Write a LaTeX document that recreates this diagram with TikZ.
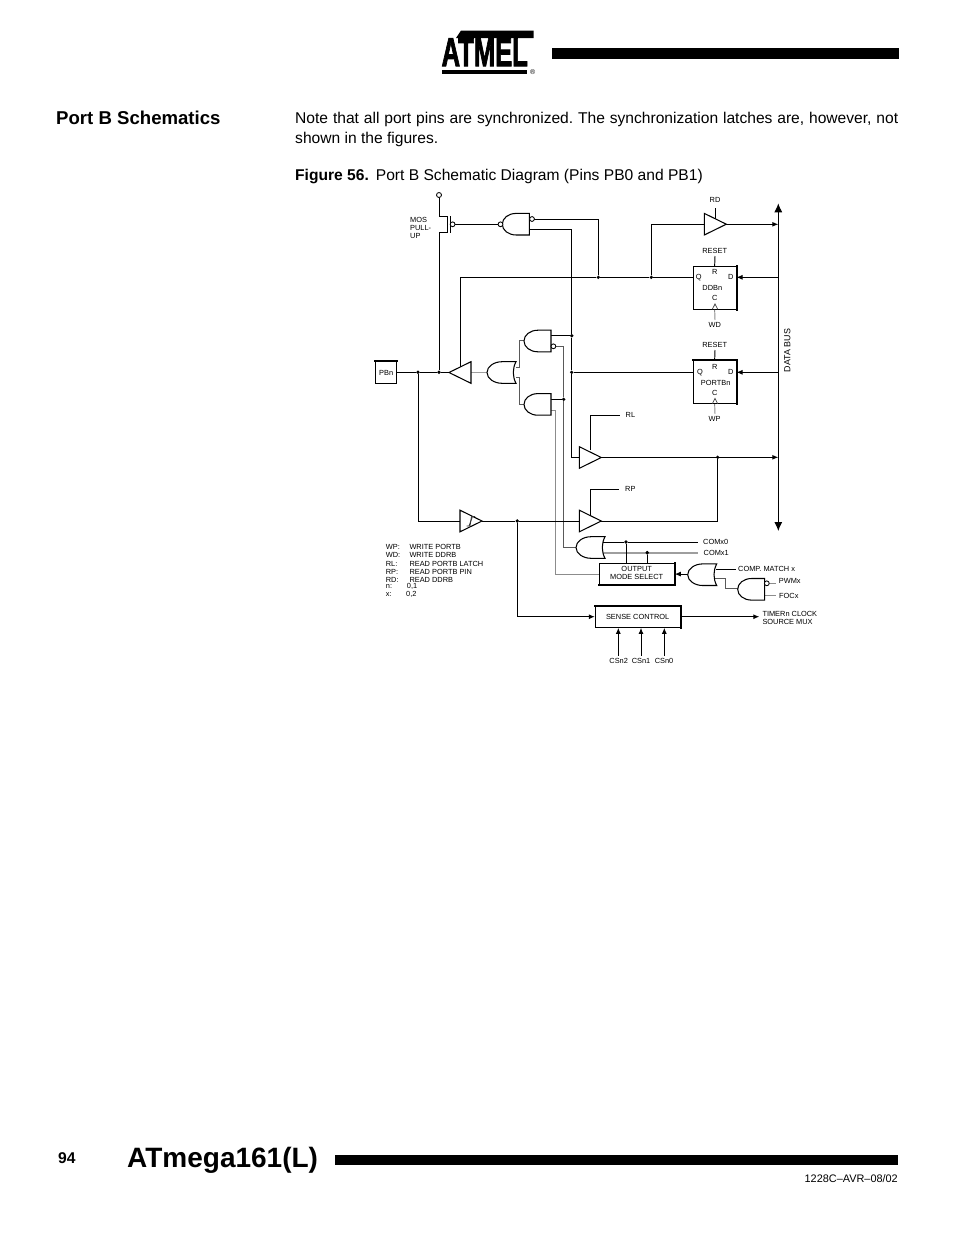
\documentclass[tikz,border=0pt]{standalone}
\usepackage{fontspec}
\setmainfont{Liberation Sans}
\newfontfamily\logofont[FakeBold=2.5]{Liberation Sans Bold}
\usetikzlibrary{arrows.meta,calc}
\newcommand{\smalltxt}{\fontsize{7.4}{8}\selectfont}
\newcommand{\bodytxt}{\fontsize{15.6}{19.5}\selectfont\frenchspacing}
\tikzset{
 wire/.style={line width=0.95pt,black},
 gwire/.style={line width=0.95pt,black!45},
 dwire/.style={line width=0.95pt,black!65},
 lwire/.style={line width=1.8pt,black!38},
 arr/.style={-{Latex[length=6pt,width=5pt]}},
 busarr/.style={{Latex[length=9pt,width=8pt]}-{Latex[length=9pt,width=8pt]}},
 gate/.style={line width=1.05pt,draw=black,fill=white,line join=miter},
 lbl/.style={inner sep=0pt,font=\smalltxt,text height=5.3pt,text depth=0pt},
 lblw/.style={lbl,anchor=west},
 dot/.style={circle,fill=black,inner sep=0pt,minimum size=3.7pt},
 bubble/.style={circle,draw=black,fill=white,line width=0.85pt,inner sep=0pt,minimum size=4.8pt},
 thebox/.style={draw=black,fill=white,line width=1pt,inner sep=0pt},
 thick edge/.style={line width=2pt,black,line cap=rect},
 andL/.pic={\path[gate] (0,-10.8) -- (-13,-10.8) .. controls (-21,-10.8) and (-27,-6) .. (-27,0) .. controls (-27,6) and (-21,10.8) .. (-13,10.8) -- (0,10.8) -- cycle;},
 orL/.pic={\path[gate] (0,-10.8) -- (-14,-10.8) .. controls (-22,-10.8) and (-29,-6) .. (-29,0) .. controls (-29,6) and (-22,10.8) .. (-14,10.8) -- (0,10.8) .. controls (-3.6,4) and (-3.6,-4) .. (0,-10.8) -- cycle;},
 bufR/.pic={\path[gate] (0,-10.8) -- (22,0) -- (0,10.8) -- cycle;},
 bufL/.pic={\path[gate] (0,-10.8) -- (-22,0) -- (0,10.8) -- cycle;},
}
\begin{document}
\begin{tikzpicture}[x=1pt,y=-1pt]
\useasboundingbox (0,0) rectangle (954,1235);
\fill[white] (0,0) rectangle (954,1235);

% page furniture
\fill[black] (552,47.5) rectangle (899,59);
\fill[black] (335,1155) rectangle (898,1164.5);
\fill[black] (461,30.5) -- (533.5,30.5) -- (533.5,38) -- (456,38) -- cycle;
\fill[black] (441.5,69.5) rectangle (527,74.3);
\node[inner sep=0pt,anchor=base west,font=\logofont\fontsize{40}{40}\selectfont,xscale=.64] (logo) at (441.5,66) {ATMEL};
\node[inner sep=0pt,font=\fontsize{7}{7}\selectfont] (reg) at (532.7,71.7) {®};
\node[inner sep=0pt,anchor=base west,font=\bfseries\fontsize{18.6}{20}\selectfont] (head) at (56,124) {Port B Schematics};
\node[inner sep=0pt,anchor=north west,text width=603pt,align=justify,font=\bodytxt] (para) at (295,112) {Note that all port pins are synchronized. The synchronization latches are, however, not shown in the figures.};
\node[inner sep=0pt,anchor=base west,font=\bodytxt] (cap) at (295,180) {\textbf{Figure 56.}\hspace{7pt}Port B Schematic Diagram (Pins PB0 and PB1)};
\node[inner sep=0pt,anchor=base west,font=\bfseries\fontsize{15.6}{18}\selectfont] (pg) at (58,1163.5) {94};
\node[inner sep=0pt,anchor=base west,font=\bfseries\fontsize{28}{30}\selectfont] (title) at (127,1167) {ATmega161(L)};
\node[inner sep=0pt,anchor=base east,font=\fontsize{10.9}{12}\selectfont] (doc) at (898,1182) {1228C–AVR–08/02};

% junctions
\node[dot] (jPA) at (418,372.3) {};
\node[dot] (jPB) at (439,372.3) {};
\node[dot] (jQ1) at (598.3,277.3) {};
\node[dot] (jQ2) at (651.3,277.3) {};
\node[dot] (jP) at (571.7,372.3) {};
\node[dot] (jA1) at (571.7,335.7) {};
\node[dot] (jA2) at (563.7,399.3) {};
\node[dot] (jS) at (517.3,521) {};
\node[dot] (jL) at (717.7,457.3) {};
\node[dot] (jC0) at (626,542) {};
\node[dot] (jC1) at (647.3,552.7) {};

% boxes
\node[thebox,minimum width=21pt,minimum height=21.6pt] (pbn) at (386.2,372.5) {};
\node[thebox,minimum width=42.7pt,minimum height=43pt] (ddb) at (714.65,287.8) {};
\node[thebox,minimum width=42.7pt,minimum height=43pt] (prt) at (714.65,382.2) {};
\node[thebox,minimum width=75pt,minimum height=21.7pt] (oms) at (636.8,574.1) {};
\node[thebox,minimum width=85pt,minimum height=21.3pt] (sns) at (637.8,616.7) {};
\draw[thick edge] (pbn.north west) -- (pbn.north east);
\draw[thick edge] (ddb.north east) -- (ddb.south east);
\draw[thick edge] (prt.north west) -- (prt.north east) -- (prt.south east);
\draw[thick edge] (oms.north east) -- (oms.south east) -- (oms.south west);
\draw[thick edge] (sns.north west) -- (sns.north east) -- (sns.south east);

% free end points
\coordinate (bT) at (778.3,203.3);
\coordinate (bB) at (778.3,531);
\coordinate (bRD) at (778.3,224.3);
\coordinate (bD1) at (778.3,277.3);
\coordinate (bD2) at (778.3,372.3);
\coordinate (bRL) at (778.3,457.3);
\coordinate (vddE) at (439,212);
\coordinate (msE) at (439,237);
\coordinate (nandIn) at (500,224.3);
\coordinate (mg) at (452.3,224.3);
\coordinate (nT) at (529.3,219);
\coordinate (nB) at (529.3,229.3);
\coordinate (bufLtop) at (460.3,366.7);
\coordinate (bufLc) at (471,372.3);
\coordinate (bufLtip) at (449.3,372.3);
\coordinate (orIn1) at (516,367.3);
\coordinate (orIn2) at (516,377.7);
\coordinate (orV1) at (519,367.3);
\coordinate (orV2) at (519,377.7);
\coordinate (orOut) at (486.7,372.3);
\coordinate (a1In) at (524,340.7);
\coordinate (a2In) at (524,404);
\coordinate (a1O) at (551,335.7);
\coordinate (a1Bub) at (556,346.3);
\coordinate (a2O) at (551,399.3);
\coordinate (a2G) at (551,410);
\coordinate (b3In) at (579.3,457.3);
\coordinate (b3Tip) at (601.3,457.3);
\coordinate (b3En) at (590.3,450);
\coordinate (b4In) at (579.3,521);
\coordinate (b4Tip) at (601.3,521);
\coordinate (b4En) at (590.3,515);
\coordinate (rlE) at (620,415);
\coordinate (rpE) at (619.3,489.3);
\coordinate (stIn) at (460,521);
\coordinate (stOut) at (481.7,521);
\coordinate (or2In) at (576.7,547.3);
\coordinate (c0S) at (603.3,542);
\coordinate (c0E) at (698.3,542);
\coordinate (c1S) at (603.3,552.7);
\coordinate (c1E) at (698.3,552.7);
\coordinate (or3O) at (688,574.1);
\coordinate (or3A) at (716,569);
\coordinate (or3AE) at (735.7,569);
\coordinate (or3B) at (715.3,578.3);
\coordinate (a3V) at (725.3,588.7);
\coordinate (a3In) at (737.7,588.7);
\coordinate (a3Bub) at (769,583.3);
\coordinate (a3BubE) at (775.7,583.3);
\coordinate (a3F) at (764.7,595.7);
\coordinate (a3FE) at (775.7,595.7);
\coordinate (snsOut) at (759.3,616.7);
\coordinate (rdB) at (704.3,224.3);
\coordinate (rdTip) at (726,224.3);
\coordinate (rdTop) at (715,208);
\coordinate (rdEn) at (715,219);
\coordinate (rst1) at (715,256);
\coordinate (rst2) at (715,350);
\coordinate (wd) at (715,320);
\coordinate (wp) at (715,414);
\coordinate (omsV) at (555.7,574.1);
\coordinate (cs2) at (618.3,655.7);
\coordinate (cs1) at (641,655.7);
\coordinate (cs0) at (664.3,655.7);

% wires
\draw[wire,busarr] (bT) -- (bB);
\draw[wire] (pbn.east |- jPA) -- (jPA) -- (jPB) -- (bufLtip);
\draw[wire] (jPB) -- (msE);
\draw[wire] (mg) -- (nandIn);
\draw[wire] (nT) -| (jQ1);
\draw[wire] (nB) -| (jA1);
\draw[wire] (jA1) -- (jP);
\draw[wire] (jP) |- (b3In);
\draw[wire] (bufLtop) |- (jQ1);
\draw[wire] (jQ1) -- (jQ2) -- (ddb.west |- jQ1);
\draw[wire] (jQ2) |- (rdB);
\draw[wire] (jP) -- (prt.west |- jP);
\draw[wire,arr] (bD1) -- (ddb.east |- bD1);
\draw[wire,arr] (bD2) -- (prt.east |- bD2);
\draw[wire,arr] (rdTip) -- (bRD);
\draw[wire] (rdTop) -- (rdEn);
\draw[wire] (rst1) -- (ddb.north);
\draw[wire] (rst2) -- (prt.north);
\draw[gwire] (wd) -- (ddb.south);
\draw[gwire] (wp) -- (prt.south);
\draw[lwire,line width=1.2pt] (bufLc) -- (orOut);
\draw[dwire] (orIn1) -- (orV1) |- (a1In);
\draw[dwire] (orIn2) -- (orV2) |- (a2In);
\draw[wire] (a1O) -- (jA1);
\draw[wire] (a2O) -- (jA2);
\draw[dwire] (a1Bub) -| (jA2);
\draw[dwire] (jA2) |- (or2In);
\draw[gwire] (a2G) -| (omsV) -- (oms.west);
\draw[wire,arr] (b3Tip) -- (bRL);
\draw[wire] (jL) |- (b4Tip);
\draw[wire] (b3En) |- (rlE);
\draw[wire] (b4En) |- (rpE);
\draw[wire] (jPA) |- (stIn);
\draw[wire] (stOut) -- (jS) -- (b4In);
\draw[wire,arr] (jS) |- (sns.west);
\draw[wire] (c0S) -- (jC0) -- (c0E);
\draw[lwire] (c1S) -- (c1E);
\draw[wire] (jC0) -- (jC0 |- oms.north);
\draw[wire] (jC1) -- (jC1 |- oms.north);
\fill[black] (jC1) circle (1.85pt);
\draw[wire,arr] (or3O) -- (oms.east);
\draw[wire] (or3A) -- (or3AE);
\draw[dwire] (or3B) -| (a3V) -- (a3In);
\draw[gwire] (a3Bub) -- (a3BubE);
\draw[gwire] (a3F) -- (a3FE);
\draw[wire,arr] (sns.east) -- (snsOut);
\draw[wire,arr] (cs2) -- (cs2 |- sns.south);
\draw[wire,arr] (cs1) -- (cs1 |- sns.south);
\draw[wire,arr] (cs0) -- (cs0 |- sns.south);

% MOS transistor
\node[bubble,minimum size=5pt] (vdd) at (439,195) {};
\draw[wire] (vdd) -- (vddE);
\draw[line width=.95pt] (vddE) -- (439,216) -- (447.6,216) -- (447.6,232.7) -- (439,232.7) -- (msE);
\draw[line width=.95pt] (450,216) -- (450,232.7);

% gates
\pic at (529.3,224.2) {andL};
\node[bubble] (nb1) at (500.5,224.3) {};
\node[bubble] (nb2) at (532,219) {};
\node[bubble] (mb) at (452.6,224.3) {};
\pic at (551,341) {andL};
\node[bubble] (ab1) at (553.4,346.3) {};
\pic at (551,404.4) {andL};
\pic at (471,372.5) {bufL};
\pic at (516,372.5) {orL};
\pic at (704.3,224.2) {bufR};
\pic at (579.3,457.5) {bufR};
\pic at (579.3,521) {bufR};
\pic at (460,521) {bufR};
\draw[line width=.8pt,black!80] (466.5,526) -- (470,526) -- (471.5,516.5) -- (475,516.5);
\draw[line width=.8pt,black!80] (469,526) -- (472.5,516.5);
\pic at (605,547.5) {orL};
\pic at (716.7,574.7) {orL};
\pic at (764.7,589.3) {andL};
\node[bubble] (ab3) at (766.8,583.3) {};

% clock marks
\draw[line width=.7pt,black!75] (712.3,309.3) -- (715,304) -- (717.7,309.3);
\draw[line width=.7pt,black!75] (712.3,403.7) -- (715,398.3) -- (717.7,403.7);

% labels
\node[lbl] (tPB) at (pbn) {PBn};
\node[inner sep=0pt,anchor=west,align=left,font=\fontsize{7.4}{8}\selectfont] (tMOS) at (410,227.5) {MOS\\PULL-\\UP};
\node[lbl] (tRD) at (715,200.3) {RD};
\node[lbl] (tR1) at (714.7,250.7) {RESET};
\node[lbl] (tR) at (714.7,272) {R};
\node[lbl] (tQ) at (698.7,277.3) {Q};
\node[lbl] (tD) at (730.7,277.3) {D};
\node[lbl] (tDDB) at (712.3,287.7) {DDBn};
\node[lbl] (tC) at (714.7,298.3) {C};
\node[lbl] (tWD) at (714.7,325) {WD};
\node[lbl] (tR2) at (714.7,345) {RESET};
\node[lbl] (tRb) at (714.7,367) {R};
\node[lbl] (tQb) at (700,371.7) {Q};
\node[lbl] (tDb) at (730.7,372.3) {D};
\node[lbl] (tPRT) at (715.7,383.3) {PORTBn};
\node[lbl] (tCb) at (714.7,392.7) {C};
\node[lbl] (tWP) at (714.7,419.3) {WP};
\node[inner sep=0pt,rotate=90,font=\fontsize{8.9}{9}\selectfont] (tBUS) at (787.3,350.5) {DATA BUS};
\node[lblw] (tRL) at (625.5,415) {RL};
\node[lblw] (tRP) at (625,489.3) {RP};
\node[lblw] (tC0) at (703,542.3) {COMx0};
\node[lblw] (tC1) at (703.5,552.7) {COMx1};
\node[lblw] (tCM) at (738,569) {COMP. MATCH x};
\node[lblw] (tPW) at (778.7,581.3) {PWMx};
\node[lblw] (tFO) at (779,595.7) {FOCx};
\node[lbl] (tOM1) at (636.7,569) {OUTPUT};
\node[lbl] (tOM2) at (636.7,577) {MODE SELECT};
\node[lbl] (tSC) at (637.7,616.7) {SENSE CONTROL};
\node[lblw] (tT1) at (762.3,614) {TIMERn CLOCK};
\node[lblw] (tT2) at (762.3,622.3) {SOURCE MUX};
\node[lbl] (tC2) at (618.7,661.3) {CSn2};
\node[lbl] (tC1b) at (641,661.3) {CSn1};
\node[lbl] (tC0b) at (664,661.3) {CSn0};
\node[lblw] (l1a) at (385.7,547.3) {WP:};
\node[lblw] (l1b) at (409.3,547.3) {WRITE PORTB};
\node[lblw] (l2a) at (385.7,555.3) {WD:};
\node[lblw] (l2b) at (409.3,555.3) {WRITE DDRB};
\node[lblw] (l3a) at (385.7,564.3) {RL:};
\node[lblw] (l3b) at (409.3,564.3) {READ PORTB LATCH};
\node[lblw] (l4a) at (385.7,572) {RP:};
\node[lblw] (l4b) at (409.3,572) {READ PORTB PIN};
\node[lblw] (l5a) at (385.7,580.3) {RD:};
\node[lblw] (l5b) at (409.3,580.3) {READ DDRB};
\node[lblw] (l6a) at (385.7,586.3) {n:};
\node[lblw] (l6b) at (406.7,586.3) {0,1};
\node[lblw] (l7a) at (385.7,594.3) {x:};
\node[lblw] (l7b) at (406,594.3) {0,2};
\end{tikzpicture}
\end{document}
